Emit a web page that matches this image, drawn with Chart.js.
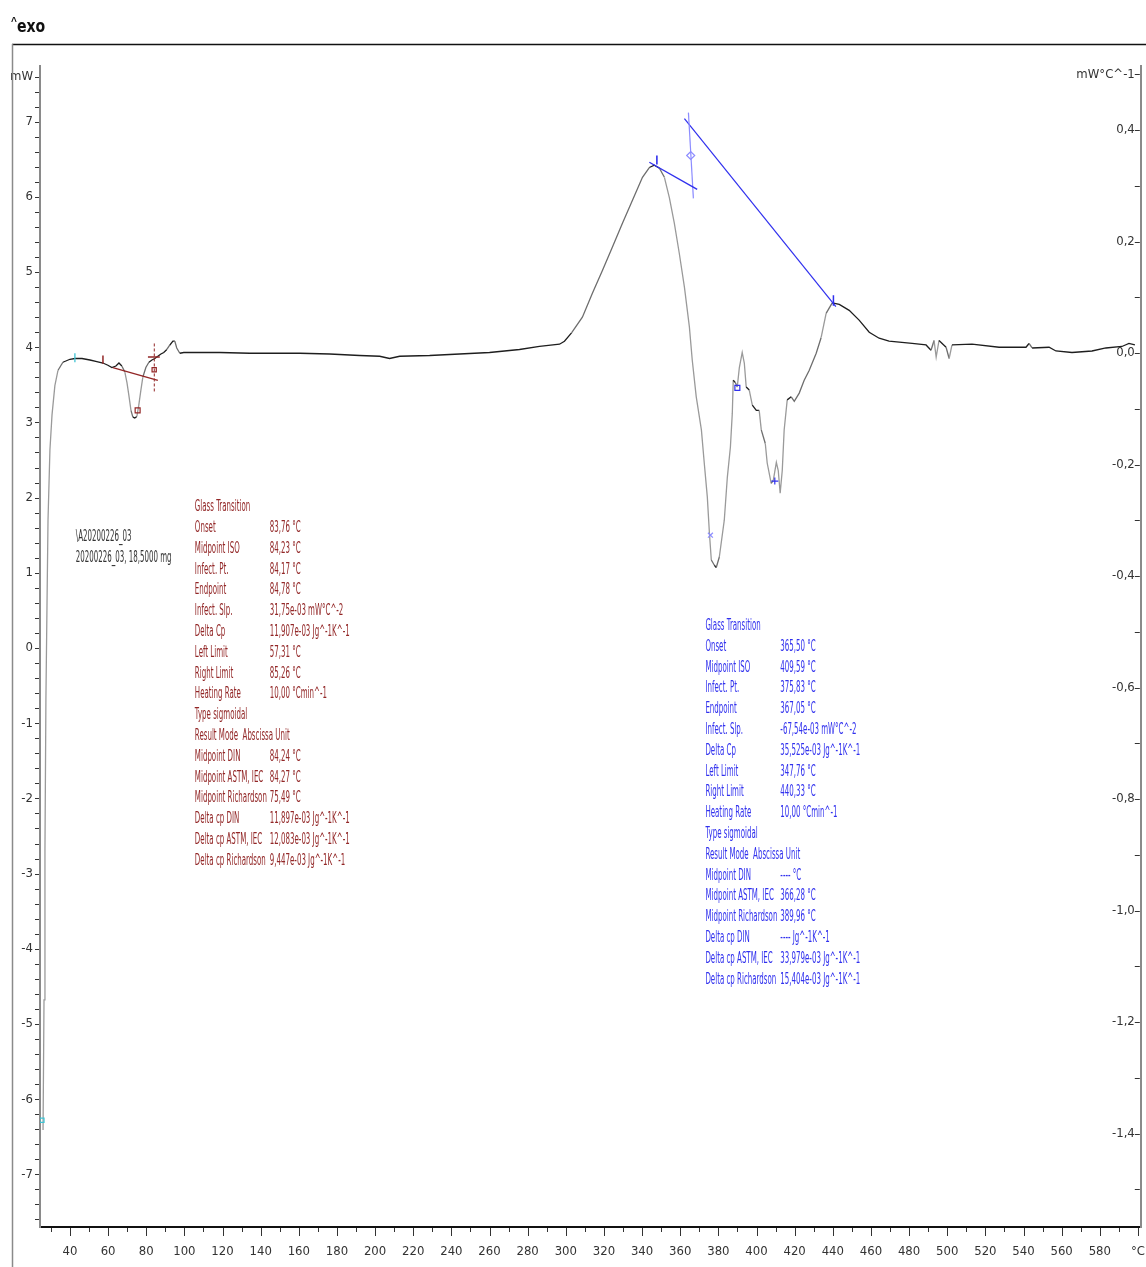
<!DOCTYPE html>
<html>
<head>
<meta charset="utf-8">
<script src="https://cdn.jsdelivr.net/npm/chart.js@4/dist/chart.umd.min.js"></script>
<style>
  html, body { margin: 0; padding: 0; background: #fff; }
  canvas { display: block; }
</style>
</head>
<body>
<canvas id="dsc" width="1146" height="1267"></canvas>
<script>
// DSC heating run of sample 20200226_03 (18,5000 mg), 10 °C/min, exo up.

// Heat flow curve: temperature (°C) and heat flow (mW)
const tempC = [25.9,26.4,26.9,27.4,28.0,28.5,29.5,30.6,32.1,33.7,36.3,40.0,42.6,46.3,50.5,54.1,57.3,59.9,62.0,64.1,
  65.7,67.2,68.8,69.9,70.9,72.0,73.0,74.0,75.1,76.1,77.2,78.2,79.8,81.4,83.0,84.5,86.1,87.7,89.2,90.8,
  92.4,94.0,95.0,96.0,97.6,99.7,102.9,108.1,118.6,134.3,150.0,160.5,176.2,191.9,202.4,207.6,212.9,228.6,244.3,260.0,
  275.7,286.2,296.7,299.3,303.0,308.7,314.0,319.2,324.4,329.7,334.9,340.2,343.8,346.4,349.1,351.7,354.3,356.9,359.5,362.2,
  364.8,366.3,368.4,371.1,372.6,374.2,375.3,376.3,377.9,378.9,380.5,383.1,384.7,386.3,387.3,387.8,388.9,389.9,391.0,392.5,
  393.6,394.6,396.2,397.8,399.9,401.4,402.5,404.6,405.6,407.7,408.8,410.4,411.4,412.4,413.5,414.5,416.1,418.2,419.8,422.4,
  425.0,427.6,431.3,433.9,436.5,439.7,443.4,448.6,453.8,459.1,464.3,469.5,481.6,488.9,491.5,493.1,494.2,495.7,499.4,501.0,
  502.5,513.0,527.2,541.3,542.9,544.5,553.4,557.0,565.4,575.9,583.2,591.6,595.3,598.4];
const heatFlow = [-6.41,-4.68,-2.69,-0.69,0.64,1.70,2.63,3.10,3.49,3.69,3.80,3.84,3.85,3.85,3.83,3.81,3.79,3.76,3.73,3.75,
  3.79,3.75,3.67,3.53,3.36,3.16,3.07,3.06,3.08,3.23,3.43,3.60,3.73,3.80,3.83,3.85,3.88,3.91,3.93,3.97,
  4.03,4.08,4.08,3.99,3.92,3.93,3.93,3.93,3.93,3.92,3.92,3.92,3.91,3.89,3.88,3.85,3.88,3.89,3.91,3.93,
  3.97,4.01,4.04,4.08,4.19,4.40,4.72,5.02,5.33,5.65,5.95,6.26,6.39,6.42,6.38,6.26,5.99,5.65,5.25,4.80,
  4.27,3.83,3.34,2.90,2.46,2.01,1.53,1.17,1.10,1.07,1.21,1.70,2.27,2.67,3.12,3.56,3.53,3.47,3.73,3.93,
  3.79,3.47,3.43,3.23,3.16,3.16,2.90,2.72,2.46,2.19,2.23,2.47,2.36,2.06,2.36,2.90,3.30,3.34,3.28,3.39,
  3.56,3.69,3.92,4.13,4.45,4.59,4.57,4.49,4.36,4.20,4.12,4.08,4.05,4.03,3.96,4.09,3.87,4.09,4.00,3.85,
  4.03,4.04,4.00,4.00,4.05,3.99,4.00,3.95,3.93,3.95,3.99,4.01,4.05,4.03];

// Axis ticks
const xTickValues = [40,60,80,100,120,140,160,180,200,220,240,260,280,300,320,340,360,380,400,420,440,460,480,500,520,540,560,580];
const xUnitTick = 600;
const yTickValues = [-7,-6,-5,-4,-3,-2,-1,0,1,2,3,4,5,6,7];
const yUnitTick = 7.6;
const y2TickValues = [-1.4,-1.2,-1.0,-0.8,-0.6,-0.4,-0.2,0.0,0.2,0.4];
const y2UnitTick = 0.5;

// Glass transition evaluation 1 (°C)
const gt1LeftLimit = 57.31;
const gt1Midpoint = 84.23;
const gt1InflectPt = 84.17;
const gt1MidRichardson = 75.49;
const gt1TangentT = [62.5, 86.1];
const gt1TangentMW = [3.73, 3.56];
const gt1StepT = [80.9, 87.1];

// Glass transition evaluation 2 (°C)
const gt2LeftLimit = 347.76;
const gt2Onset = 365.50;
const gt2InflectPt = 375.83;
const gt2MidRichardson = 389.96;
const gt2MidpointIso = 409.59;
const gt2RightLimit = 440.33;
const gt2TangentT = [343.8, 368.9];
const gt2TangentMW = [6.46, 6.10];
const gt2OnsetT = [364.3, 366.9];
const gt2OnsetMW = [7.12, 5.98];
const gt2BaseT = [362.2, 441.6];
const gt2BaseMW = [7.04, 4.54];

const gt1Rows = [
  ['Glass Transition', ''],
  ['Onset', '83,76 °C'],
  ['Midpoint ISO', '84,23 °C'],
  ['Infect. Pt.', '84,17 °C'],
  ['Endpoint', '84,78 °C'],
  ['Infect. Slp.', '31,75e-03 mW°C^-2'],
  ['Delta Cp', '11,907e-03 Jg^-1K^-1'],
  ['Left Limit', '57,31 °C'],
  ['Right Limit', '85,26 °C'],
  ['Heating Rate', '10,00 °Cmin^-1'],
  ['Type sigmoidal', ''],
  ['Result Mode  Abscissa Unit', ''],
  ['Midpoint DIN', '84,24 °C'],
  ['Midpoint ASTM, IEC', '84,27 °C'],
  ['Midpoint Richardson', '75,49 °C'],
  ['Delta cp DIN', '11,897e-03 Jg^-1K^-1'],
  ['Delta cp ASTM, IEC', '12,083e-03 Jg^-1K^-1'],
  ['Delta cp Richardson', '9,447e-03 Jg^-1K^-1']
];
const gt2Rows = [
  ['Glass Transition', ''],
  ['Onset', '365,50 °C'],
  ['Midpoint ISO', '409,59 °C'],
  ['Infect. Pt.', '375,83 °C'],
  ['Endpoint', '367,05 °C'],
  ['Infect. Slp.', '-67,54e-03 mW°C^-2'],
  ['Delta Cp', '35,525e-03 Jg^-1K^-1'],
  ['Left Limit', '347,76 °C'],
  ['Right Limit', '440,33 °C'],
  ['Heating Rate', '10,00 °Cmin^-1'],
  ['Type sigmoidal', ''],
  ['Result Mode  Abscissa Unit', ''],
  ['Midpoint DIN', '---- °C'],
  ['Midpoint ASTM, IEC', '366,28 °C'],
  ['Midpoint Richardson', '389,96 °C'],
  ['Delta cp DIN', '---- Jg^-1K^-1'],
  ['Delta cp ASTM, IEC', '33,979e-03 Jg^-1K^-1'],
  ['Delta cp Richardson', '15,404e-03 Jg^-1K^-1']
];
const sampleRows = ['\\A20200226_03', '20200226_03, 18,5000 mg'];

const NARROW = '"Liberation Sans Narrow", "DejaVu Sans Condensed", "Liberation Sans", sans-serif';
const RED = '#922626';
const BLUE = '#3030ee';
const LIGHTBLUE = '#8c8cff';
const CYAN = '#3ec3d3';

function seg(xs, ys) { return xs.map((t, i) => ({x: t, y: ys[i]})); }
function lineSet(data, color, width, dash) {
  return { type: 'line', data, borderColor: color, borderWidth: width || 1.3, borderDash: dash || [],
           pointRadius: 0, fill: false, tension: 0, order: 1 };
}
function markSet(data, style, color, r) {
  return { type: 'scatter', data, pointStyle: style, pointRadius: r || 4, borderColor: color,
           backgroundColor: 'rgba(0,0,0,0)', pointBorderWidth: 1.2, showLine: false, order: 0 };
}

const datasets = [
  {
    type: 'line', label: 'Heat flow', data: seg(tempC, heatFlow), pointRadius: 0, borderWidth: 1.3,
    tension: 0, fill: false, order: 2, borderColor: '#1e1e1e',
    segment: {
      borderColor: c => {
        const dx = Math.abs(c.p1.x - c.p0.x), dy = Math.abs(c.p1.y - c.p0.y);
        if (dy > 4 * dx) return '#9a9a9a';
        if (dy > 1.4 * dx) return '#6e6e6e';
        return '#1e1e1e';
      }
    }
  },
  // evaluation 1 marks
  lineSet(seg(gt1TangentT, gt1TangentMW), RED, 1.3),
  lineSet(seg(gt1StepT, [3.87, 3.87]), RED, 1.3),
  lineSet(seg([gt1Midpoint, gt1Midpoint], [4.05, 3.40]), RED, 1, [3, 2]),
  lineSet(seg([gt1LeftLimit, gt1LeftLimit], [3.78, 3.89]), RED, 1.5),
  markSet([{x: gt1MidRichardson, y: 3.16}], 'rect', RED, 3.5),
  markSet([{x: gt1InflectPt, y: 3.70}], 'rect', RED, 3),
  lineSet(seg([42.6, 42.6], [3.80, 3.92]), CYAN, 1.3),
  markSet([{x: 25.3, y: -6.28}], 'rect', CYAN, 3),
  // evaluation 2 marks
  lineSet(seg(gt2TangentT, gt2TangentMW), BLUE, 1.4),
  lineSet(seg([gt2LeftLimit, gt2LeftLimit], [6.43, 6.55]), BLUE, 1.6),
  lineSet(seg(gt2OnsetT, gt2OnsetMW), LIGHTBLUE, 1.2),
  markSet([{x: gt2Onset, y: 6.55}], 'rectRot', LIGHTBLUE, 4),
  lineSet(seg(gt2BaseT, gt2BaseMW), BLUE, 1.2),
  lineSet(seg([gt2RightLimit, gt2RightLimit], [4.55, 4.69]), BLUE, 1.5),
  markSet([{x: gt2InflectPt, y: 1.50}], 'crossRot', LIGHTBLUE, 3.5),
  markSet([{x: gt2MidRichardson, y: 3.46}], 'rect', BLUE, 3.5),
  markSet([{x: gt2MidpointIso, y: 2.22}], 'cross', BLUE, 3.5)
];

function squeezeText(ctx, str, x, y, sx) {
  ctx.save();
  ctx.translate(x, y);
  ctx.scale(sx, 1);
  ctx.fillText(str, 0, 0);
  ctx.restore();
}

const decorations = {
  id: 'dscDecorations',
  afterDraw(chart) {
    const {ctx, chartArea: a, scales} = chart;
    const x = scales.x, y = scales.y, y2 = scales.y2;
    ctx.save();

    // outer frame
    ctx.strokeStyle = '#111'; ctx.lineWidth = 1.6;
    ctx.beginPath(); ctx.moveTo(12, 44.5); ctx.lineTo(chart.width, 44.5); ctx.stroke();
    ctx.strokeStyle = '#8a8a8a'; ctx.lineWidth = 1.5;
    ctx.beginPath(); ctx.moveTo(12.5, 44); ctx.lineTo(12.5, chart.height); ctx.stroke();

    // exo-up marker
    ctx.fillStyle = '#111'; ctx.textBaseline = 'alphabetic'; ctx.textAlign = 'left';
    ctx.font = 'bold 10px "Liberation Sans", sans-serif';
    ctx.fillText('^', 11, 25);
    ctx.font = 'bold 17px ' + NARROW;
    squeezeText(ctx, 'exo', 17, 32, 0.92);

    // tick marks
    ctx.strokeStyle = '#333'; ctx.lineWidth = 1;
    for (let i = -38; i <= 38; i++) {
      const py = Math.round(y.getPixelForValue(i / 5)) + 0.5;
      ctx.beginPath(); ctx.moveTo(a.left - 5, py); ctx.lineTo(a.left - 1, py); ctx.stroke();
    }
    for (let i = -15; i <= 5; i++) {
      const py = Math.round(y2.getPixelForValue(i / 10)) + 0.5;
      ctx.beginPath(); ctx.moveTo(a.right - 6, py); ctx.lineTo(a.right - 1, py); ctx.stroke();
    }
    for (let t = 30; t <= 600; t += 10) {
      const px = Math.round(x.getPixelForValue(t)) + 0.5;
      const len = (t % 20 === 0) ? 8 : 4;
      ctx.beginPath(); ctx.moveTo(px, a.bottom + 1); ctx.lineTo(px, a.bottom + 1 + len); ctx.stroke();
    }

    // result blocks
    ctx.font = '15px ' + NARROW;
    ctx.textBaseline = 'middle';
    const sx = 72 / ctx.measureText('Midpoint Richardson').width;
    const step = 20.8;

    ctx.fillStyle = '#333';
    const sX = x.getPixelForValue(43.1), sY = y.getPixelForValue(1.47);
    sampleRows.forEach((s, i) => squeezeText(ctx, s, sX, sY + i * step, sx));

    const block = (rows, t0, t1, mw, color) => {
      const c0 = x.getPixelForValue(t0), c1 = x.getPixelForValue(t1), top = y.getPixelForValue(mw);
      ctx.fillStyle = color;
      rows.forEach((r, i) => {
        squeezeText(ctx, r[0], c0, top + i * step, sx);
        if (r[1]) squeezeText(ctx, r[1], c1, top + i * step, sx);
      });
    };
    block(gt1Rows, 105.5, 144.8, 1.87, RED);
    block(gt2Rows, 373.2, 412.5, 0.29, BLUE);

    ctx.restore();
  }
};

const tickFont = { family: NARROW, size: 13 };

new Chart(document.getElementById('dsc'), {
  type: 'line',
  data: { datasets },
  options: {
    responsive: false,
    animation: false,
    layout: { padding: { top: 66, left: 0, right: 0, bottom: 0 } },
    plugins: { legend: { display: false }, tooltip: { enabled: false }, title: { display: false } },
    scales: {
      x: {
        type: 'linear', position: 'bottom', min: 24.3, max: 601.5,
        grid: { display: false, drawTicks: false },
        border: { display: true, color: '#111', width: 2 },
        afterBuildTicks: s => { s.ticks = xTickValues.concat([xUnitTick]).map(v => ({ value: v })); },
        afterFit: s => { s.height = 40; s.paddingLeft = 0; s.paddingRight = 0; },
        ticks: {
          padding: 17, color: '#333', font: tickFont, maxRotation: 0, autoSkip: false,
          callback: v => v === xUnitTick ? '°C' : String(v)
        }
      },
      y: {
        type: 'linear', position: 'left', min: -7.70, max: 7.74,
        grid: { display: false, drawTicks: false },
        border: { display: true, color: '#8a8a8a', width: 2 },
        afterBuildTicks: s => { s.ticks = yTickValues.concat([yUnitTick]).map(v => ({ value: v })); },
        afterFit: s => { s.width = 40; s.paddingTop = 0; s.paddingBottom = 0; },
        ticks: {
          padding: 7, color: '#333', font: tickFont, autoSkip: false,
          callback: v => v === yUnitTick ? 'mW' : String(v)
        }
      },
      y2: {
        type: 'linear', position: 'right', min: -1.5677, max: 0.5148,
        grid: { display: false, drawTicks: false },
        border: { display: true, color: '#8a8a8a', width: 2 },
        afterBuildTicks: s => { s.ticks = y2TickValues.concat([y2UnitTick]).map(v => ({ value: v })); },
        afterFit: s => { s.width = 4; s.paddingTop = 0; s.paddingBottom = 0; },
        ticks: {
          mirror: true, padding: -6, color: '#333', font: tickFont, autoSkip: false,
          callback: v => v === y2UnitTick ? 'mW°C^-1' : v.toFixed(1).replace('.', ',')
        }
      }
    }
  },
  plugins: [decorations]
});
</script>
</body>
</html>
